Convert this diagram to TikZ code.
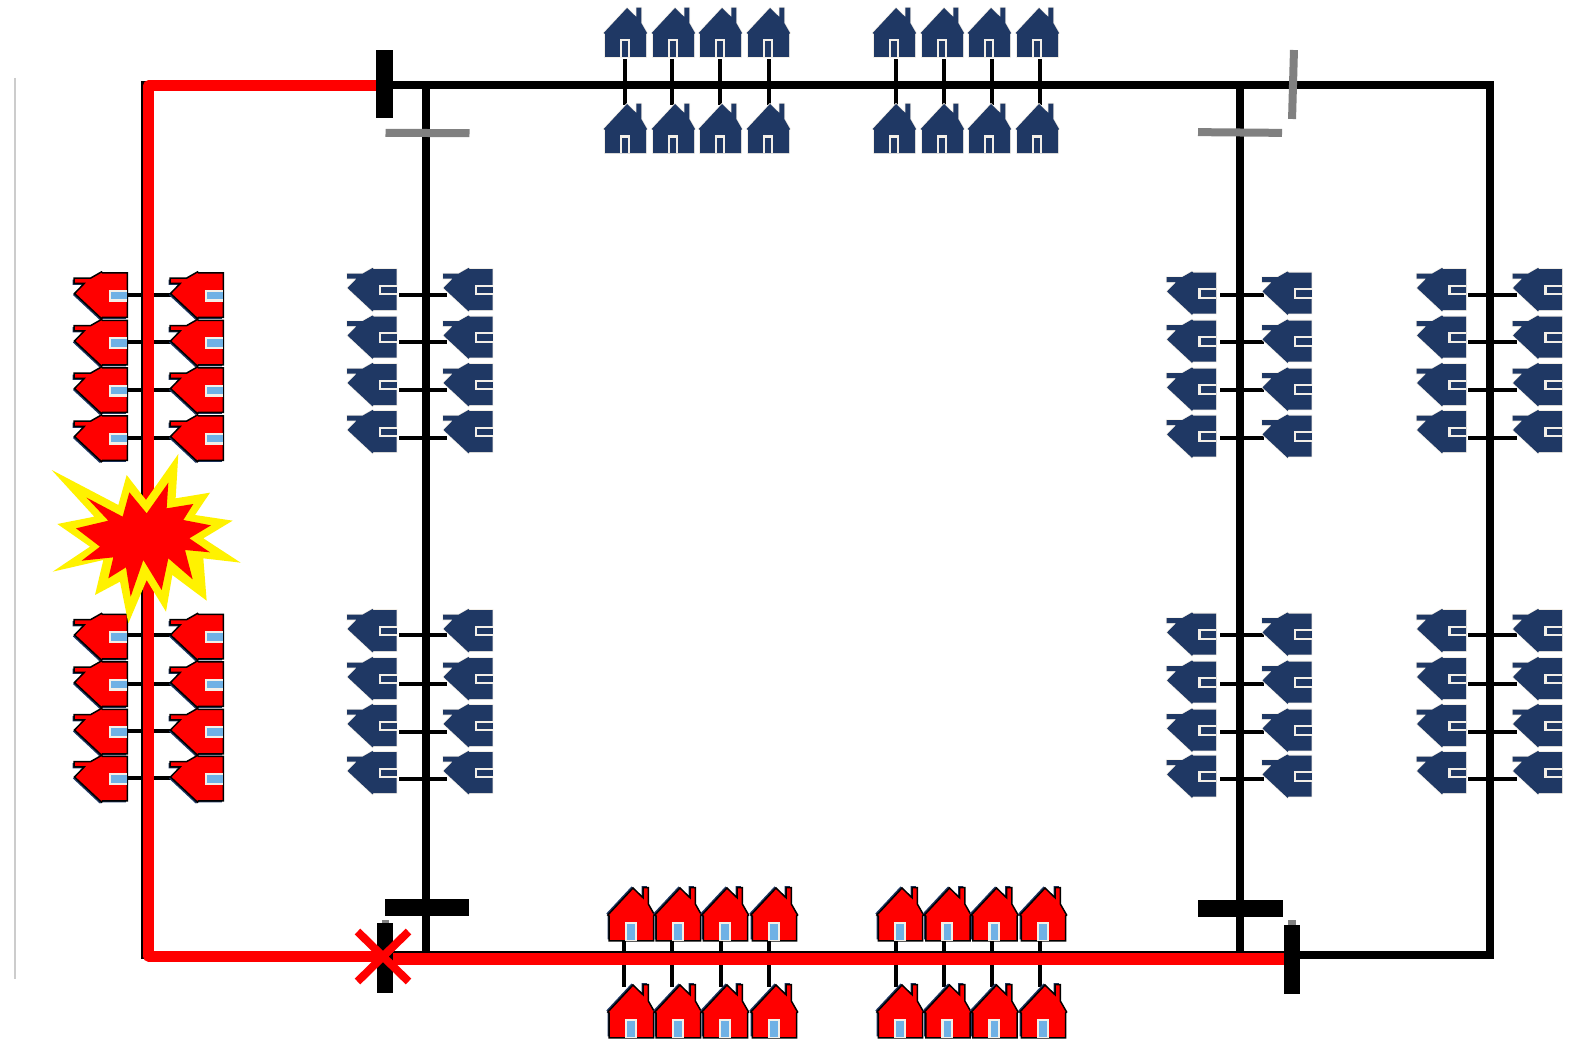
\documentclass[tikz,border=0pt]{standalone}
\usetikzlibrary{shapes.misc}
\definecolor{navyhouse}{HTML}{1F3864}
\definecolor{doorblue}{HTML}{6FB1E5}
\definecolor{halo}{HTML}{F3EFE8}
\newcommand{\housepath}{(0,0) -- (9.3,9) -- (9.3,-0.3) -- (14.3,-0.3) -- (14.3,15) -- (20,25) -- (19,26) -- (19,49) -- (-22,49) -- (-22,26) -- (-23.3,25) -- cycle}
\tikzset{
	busline/.style={line width=8pt, line join=miter},
	faultline/.style={red, line width=12pt, line join=round},
	service/.style={line width=4pt},
	switchbar/.style={rectangle, inner sep=0pt, outer sep=0pt, fill=black},
	openbar/.style={switchbar, fill=black!50},
	pics/bluehouse/.style={code={
		\draw[halo, line width=1.6pt] \housepath;
		\fill[navyhouse] \housepath;
		\fill[halo] (-7.3,31) rectangle (3.3,49);
		\fill[navyhouse] (-5,33.5) rectangle (1.3,49);
	}},
	pics/redhouse/.style={code={
		\begin{scope}[scale=1.08]
			\fill[navyhouse, shift={(-1.4,-1.4)}] \housepath;
			\filldraw[fill=red, draw=black, line width=1.5pt, line join=miter] \housepath;
			\fill[halo] (-7.6,31.5) rectangle (3.6,49);
			\fill[doorblue] (-5.4,33.5) rectangle (1.6,48.4);
		\end{scope}
	}}
}
\begin{document}
\begin{tikzpicture}[x=1pt, y=-1pt]
	\useasboundingbox (0,0) rectangle (1581,1038);

	% Margin rule
	\coordinate (ruletop) at (15,78);
	\coordinate (rulebot) at (15,979);
	\draw[black!20, line width=2pt] (ruletop) -- (rulebot);

	% Ring corners and branches
	\coordinate (nw) at (144.5,85);
	\coordinate (ne) at (1490,85);
	\coordinate (se) at (1490,955);
	\coordinate (sw) at (144.5,955);
	\coordinate (la) at (426,85);
	\coordinate (lb) at (426,955);
	\coordinate (ra) at (1240,85);
	\coordinate (rb) at (1240,955);
	\draw[busline] (nw) -- (ne) -- (se) -- (sw) -- cycle;
	\draw[busline] (la) -- (lb);
	\draw[busline] (ra) -- (rb);

	% Top houses
	\foreach \tx/\cx [count=\i] in {627/625,675/672,722/720,770/769,896/896,944/944,991/992,1039/1040} {
		\coordinate (ta\i) at (\cx,59);
		\coordinate (tb\i) at (\cx,105);
		\draw[service] (ta\i) -- (tb\i);
		\pic (tu\i) at (\tx,8) {bluehouse};
		\pic (td\i) at (\tx,104) {bluehouse};
	}

	% Left feeder, blue
	\foreach \ty/\cy [count=\i] in {288/295,335.5/342,383/390,430/438,629/635,677/684,724/732,771/779} {
		\coordinate (ba\i) at (399,\cy);
		\coordinate (bb\i) at (447,\cy);
		\draw[service] (ba\i) -- (bb\i);
		\pic[rotate=90] (bl\i) at (347.5,\ty) {bluehouse};
		\pic[rotate=90] (br\i) at (443.5,\ty) {bluehouse};
	}

	% Inner right feeder
	\foreach \ty/\cy [count=\i] in {291.5/295,339.5/342,387.5/390,434.5/438,632.5/635,680.5/684,728.5/732,774.5/779} {
		\coordinate (ca\i) at (1220,\cy);
		\coordinate (cb\i) at (1264,\cy);
		\draw[service] (ca\i) -- (cb\i);
		\pic[rotate=90] (cl\i) at (1167,\ty) {bluehouse};
		\pic[rotate=90] (cr\i) at (1262.5,\ty) {bluehouse};
	}

	% Outer right feeder
	\foreach \ty/\cy [count=\i] in {288/295,335.5/342,383/390,430/438,629/635,677/684,724/732,771/779} {
		\coordinate (da\i) at (1468,\cy);
		\coordinate (db\i) at (1517,\cy);
		\draw[service] (da\i) -- (db\i);
		\pic[rotate=90] (dl\i) at (1417,\ty) {bluehouse};
		\pic[rotate=90] (dr\i) at (1513,\ty) {bluehouse};
	}

	% Left feeder, no supply
	\foreach \ty/\cy [count=\i] in {293.5/295,341/342,388.5/390,436.5/438,635/635,682.5/684,730/731,777/778} {
		\coordinate (ea\i) at (128,\cy);
		\coordinate (eb\i) at (172,\cy);
		\draw[service] (ea\i) -- (eb\i);
		\pic[rotate=90] (el\i) at (74.5,\ty) {redhouse};
		\pic[rotate=90] (er\i) at (170.5,\ty) {redhouse};
	}

	% Bottom houses, no supply
	\foreach \tx/\cx [count=\i] in {633/624,680/672,727/721,776/769,902/896,949.5/944,996.5/992,1045/1040} {
		\coordinate (fa\i) at (\cx,941);
		\coordinate (fb\i) at (\cx,987);
		\draw[service] (fa\i) -- (fb\i);
		\pic (fu\i) at (\tx,888) {redhouse};
		\pic (fd\i) at (\tx,985) {redhouse};
	}

	% Dead sections
	\coordinate (ftop) at (378,86);
	\coordinate (fnw) at (148.5,86);
	\coordinate (fsw) at (148.5,956);
	\coordinate (fmid) at (383,956);
	\coordinate (gmid) at (383,959);
	\coordinate (gend) at (1286,959);
	\draw[faultline, line width=11pt] (ftop) -- (fnw) -- (fsw) -- (fmid);
	\draw[faultline] (gmid) -- (gend);

	% Switches
	\node[switchbar, minimum width=17pt, minimum height=68pt] (sw1) at (384.5,84) {};
	\node[openbar, minimum width=84pt, minimum height=8pt, rotate=-0.3] (sw2) at (427.5,133) {};
	\node[openbar, minimum width=84pt, minimum height=8pt, rotate=-0.5] (sw3) at (1240,132.5) {};
	\node[openbar, minimum width=8pt, minimum height=69pt, rotate=-1.6] (sw4) at (1293,84.5) {};
	\node[switchbar, minimum width=84pt, minimum height=17pt] (sw5) at (427,907.5) {};
	\node[switchbar, minimum width=85pt, minimum height=17pt] (sw6) at (1240.5,908.5) {};
	\node[openbar, minimum width=7pt, minimum height=5pt] (nub1) at (385.5,922) {};
	\node[switchbar, minimum width=16pt, minimum height=70pt] (sw7) at (385,958) {};
	\node[openbar, minimum width=8pt, minimum height=5pt] (nub2) at (1292,922.5) {};
	\node[switchbar, minimum width=16pt, minimum height=69pt] (sw8) at (1292,959.5) {};

	% Cross on the open switch
	\node[cross out, draw=red, line width=8pt, minimum width=51pt, minimum height=50pt, inner sep=0pt, outer sep=0pt] (fault) at (383,956.5) {};

	% Explosion
	\begin{scope}[shift={(40,250)}, scale=1/3]
		\fill[yellow] (35,660) -- (235,765) -- (260,675) -- (318,750) -- (415,612) -- (407,745) -- (510,728) -- (465,795) -- (578,812) -- (490,865) -- (602,938) -- (490,925) -- (500,1052) -- (397,975) -- (378,1085) -- (320,990) -- (265,1120) -- (240,995) -- (165,1035) -- (190,930) -- (38,965) -- (150,890) -- (52,822) -- (163,800) -- cycle;
		\fill[red] (140,743) -- (248,800) -- (268,727) -- (320,790) -- (385,698) -- (380,775) -- (460,762) -- (430,810) -- (513,826) -- (448,865) -- (510,907) -- (435,900) -- (458,988) -- (385,925) -- (365,1020) -- (310,930) -- (272,1040) -- (258,952) -- (205,985) -- (220,922) -- (125,932) -- (180,890) -- (108,835) -- (205,812) -- cycle;
	\end{scope}
\end{tikzpicture}
\end{document}
